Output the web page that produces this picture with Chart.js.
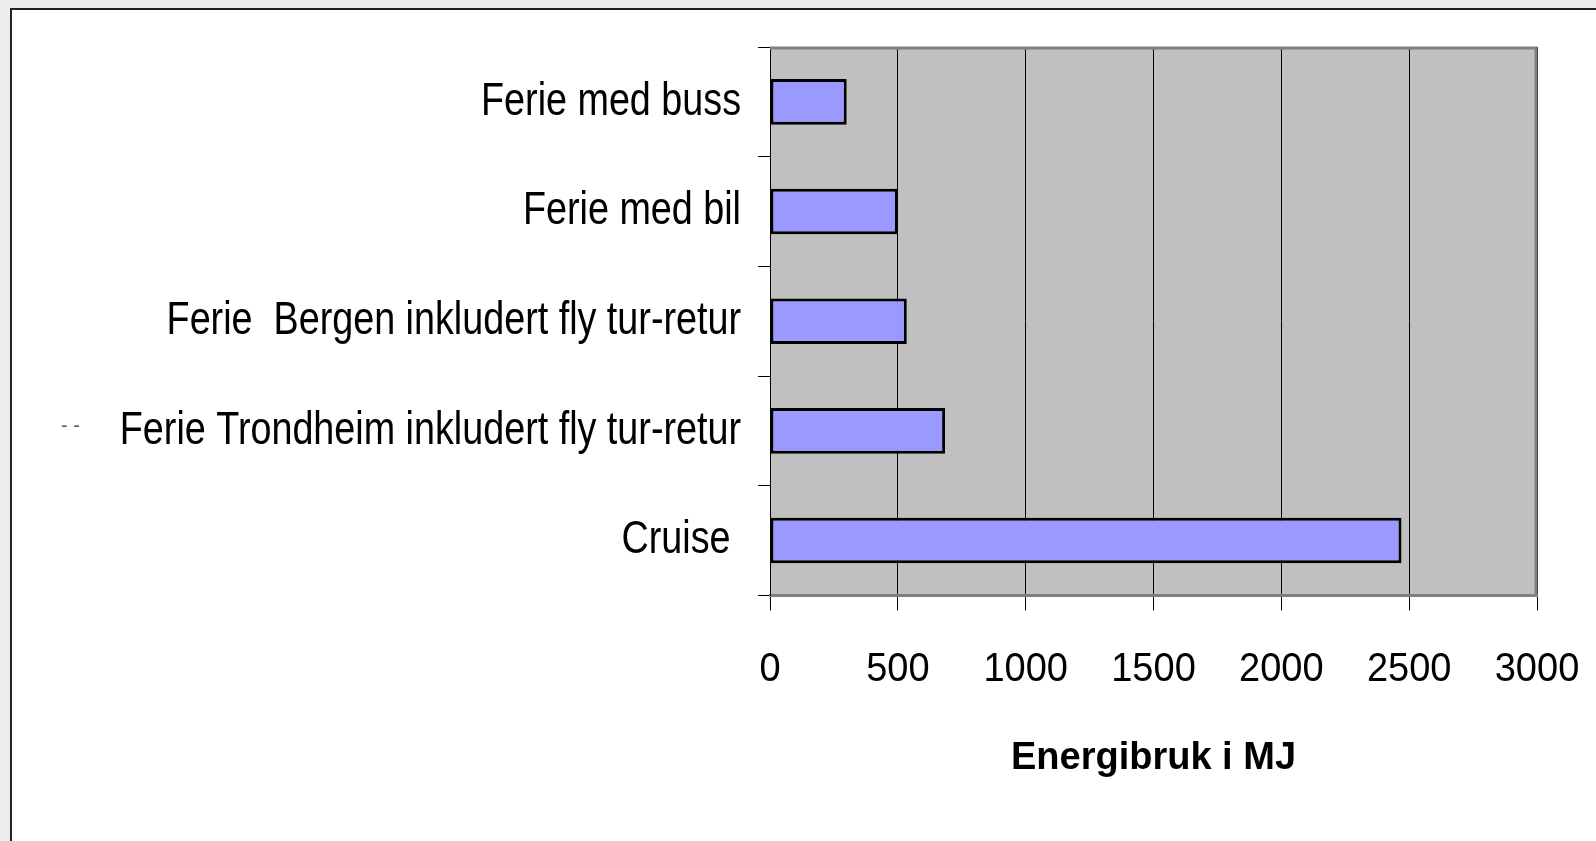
<!DOCTYPE html>
<html>
<head>
<meta charset="utf-8">
<script src="https://cdn.jsdelivr.net/npm/chart.js@4.4.0/dist/chart.umd.min.js"></script>
<style>
  html, body { margin: 0; padding: 0; background: #ececec; overflow: hidden; }
  .frame {
    position: absolute; left: 10px; top: 8px; right: 0; bottom: 0;
    background: #fff; border-left: 2px solid #222; border-top: 2px solid #222;
  }
  .wrap { position: absolute; left: 0; top: 0; width: 1596px; height: 841px; }
</style>
</head>
<body>
<div class="frame"></div>
<div class="wrap"><canvas id="energyChart" width="1596" height="841"></canvas></div>
<script>
// categories top to bottom
const labels = [
  'Ferie med buss',
  'Ferie med bil',
  'Ferie  Bergen inkludert fly tur-retur',
  'Ferie Trondheim inkludert fly tur-retur',
  'Cruise '
];
const energy = [300, 500, 535, 685, 2470];
const xTicks = [0, 500, 1000, 1500, 2000, 2500, 3000];

const sans = '"Liberation Sans", Arial, sans-serif';
// the original uses a condensed face; no narrow font here, so squeeze the labels
const squeeze = { x: 0.95, y: 0.82 };

function squeezeText(ctx, k, draw) {
  const fill = ctx.fillText;
  ctx.fillText = function (t, x, y) {
    this.save();
    this.translate(x, y);
    this.scale(k, 1);
    fill.call(this, t, 0, 0);
    this.restore();
  };
  draw();
  delete ctx.fillText;
}

// grey plot area with the heavier grey border on top / right
const plotArea = {
  id: 'plotArea',
  beforeDraw(chart) {
    const { ctx, chartArea: a } = chart;
    ctx.save();
    ctx.fillStyle = '#c0c0c0';
    ctx.fillRect(a.left, a.top, a.right - a.left, a.bottom - a.top);
    ctx.restore();
    for (const id of ['x', 'y']) {
      const s = chart.scales[id];
      if (s._narrow) continue;
      const orig = s.drawLabels.bind(s);
      s.drawLabels = area => squeezeText(s.ctx, squeeze[id], () => orig(area));
      s._narrow = true;
    }
  },
  afterDraw(chart) {
    const { ctx, chartArea: a } = chart;
    ctx.save();
    ctx.strokeStyle = '#808080';
    ctx.lineWidth = 3;
    ctx.beginPath();
    ctx.moveTo(a.left, a.top + 1);
    ctx.lineTo(a.right - 1, a.top + 1);
    ctx.lineTo(a.right - 1, a.bottom);
    ctx.stroke();
    // stray dashes left of the Trondheim label
    ctx.fillStyle = '#555';
    ctx.font = '20px ' + sans;
    ctx.textBaseline = 'middle';
    ctx.fillText('- -', 61, 426);
    ctx.restore();
  }
};

new Chart(document.getElementById('energyChart'), {
  type: 'bar',
  data: {
    labels,
    datasets: [{
      data: energy,
      backgroundColor: '#9999ff',
      borderColor: '#000',
      borderWidth: 3,
      borderSkipped: false,
      barPercentage: 0.52,
      categoryPercentage: 0.8
    }]
  },
  options: {
    indexAxis: 'y',
    responsive: false,
    animation: false,
    events: [],
    layout: { padding: { left: 0, top: 47, right: 59, bottom: 60 } },
    plugins: { legend: { display: false }, tooltip: { enabled: false } },
    scales: {
      x: {
        min: 0, max: 3000,
        afterBuildTicks: s => { s.ticks = xTicks.map(v => ({ value: v })); },
        afterFit: s => { s.paddingRight = 0; },
        grid: { color: '#000', lineWidth: 1, tickLength: 15, drawTicks: true },
        border: { color: '#808080', width: 3 },
        ticks: { color: '#000', padding: 36, font: { family: sans, size: 40 }, callback: v => String(v) },
        title: {
          display: true,
          text: 'Energibruk i MJ',
          color: '#000',
          padding: { top: 5, bottom: 0 },
          font: { family: sans, size: 38, weight: 'bold' }
        }
      },
      y: {
        afterFit: s => { s.width = 770; },
        grid: { drawOnChartArea: false, color: '#000', tickLength: 12 },
        border: { color: '#000', width: 1 },
        ticks: { color: '#000', padding: 17, font: { family: sans, size: 46 } }
      }
    }
  },
  plugins: [plotArea]
});
</script>
</body>
</html>
